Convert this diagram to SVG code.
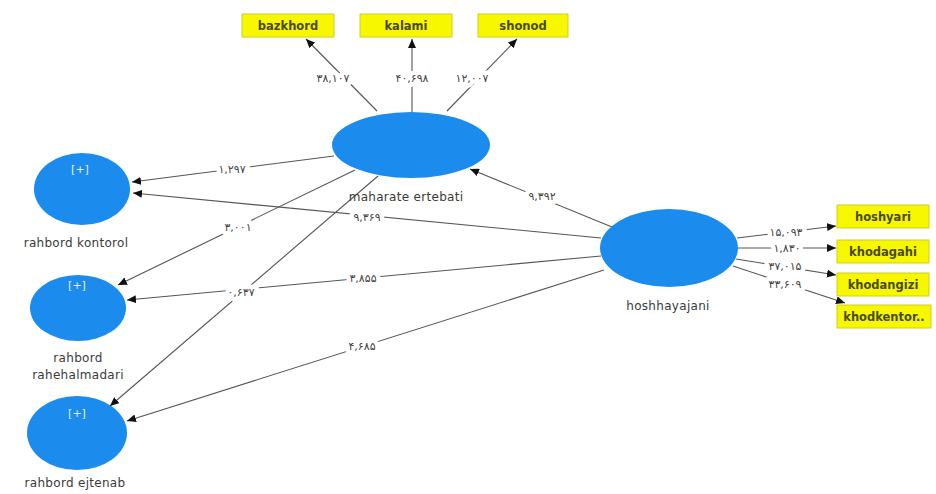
<svg xmlns="http://www.w3.org/2000/svg" width="936" height="494" viewBox="0 0 936 494">
<style>
.lv{fill:#1b8ced;}
.ind{fill:#f7f700;stroke:#cfcf20;stroke-width:1;}
.lbl{font-family:"DejaVu Sans","Liberation Sans",sans-serif;font-size:12px;fill:#3a3a3a;text-anchor:middle;letter-spacing:0.3px;}
.ilbl{font-family:"DejaVu Sans","Liberation Sans",sans-serif;font-size:11.5px;font-weight:bold;fill:#4a4a1a;text-anchor:middle;}
.plus{font-family:"DejaVu Sans","Liberation Sans",sans-serif;font-size:11px;fill:#e6f2ff;text-anchor:middle;}
.num{font-family:"DejaVu Sans",sans-serif;font-size:11px;fill:#444;text-anchor:middle;letter-spacing:1.3px;stroke:#fff;stroke-width:9px;paint-order:stroke;stroke-linejoin:round;direction:ltr;}
.ln{stroke:#555;stroke-width:1.1;fill:none;marker-end:url(#ah);}
</style>
<defs>
<marker id="ah" markerUnits="userSpaceOnUse" markerWidth="10" markerHeight="8" refX="9" refY="4" orient="auto">
<path d="M0,0 L9,4 L0,8 z" fill="#111"/>
</marker>
</defs>
<rect width="936" height="494" fill="#fff"/>
<g id="connectors">
<line class="ln" x1="377" y1="111" x2="306" y2="39"/>
<line class="ln" x1="412" y1="112" x2="412" y2="39"/>
<line class="ln" x1="447" y1="111" x2="517" y2="39"/>
<line class="ln" x1="334" y1="156" x2="132" y2="182"/>
<line class="ln" x1="601" y1="238" x2="133" y2="193"/>
<line class="ln" x1="355" y1="170" x2="118" y2="285"/>
<line class="ln" x1="601" y1="256" x2="127" y2="300"/>
<line class="ln" x1="378" y1="176" x2="110" y2="406"/>
<line class="ln" x1="604" y1="270" x2="127" y2="421"/>
<line class="ln" x1="612" y1="227" x2="470" y2="169"/>
<line class="ln" x1="737" y1="238" x2="836" y2="226"/>
<line class="ln" x1="738" y1="248" x2="836" y2="248"/>
<line class="ln" x1="736" y1="259" x2="836" y2="275"/>
<line class="ln" x1="733" y1="266" x2="845" y2="303"/>
<text class="num" x="333" y="82">۳۸,۱۰۷</text>
<text class="num" x="412" y="82">۴۰,۶۹۸</text>
<text class="num" x="472" y="82">۱۲,۰۰۷</text>
<text class="num" x="232" y="173">۱,۲۹۷</text>
<text class="num" x="367" y="221">۹,۳۶۹</text>
<text class="num" x="238" y="231">۳,۰۰۱</text>
<text class="num" x="241" y="296">۰,۶۳۷</text>
<text class="num" x="363" y="282">۳,۸۵۵</text>
<text class="num" x="362" y="350">۴,۶۸۵</text>
<text class="num" x="542" y="200">۹,۳۹۲</text>
<text class="num" x="786" y="236">۱۵,۰۹۳</text>
<text class="num" x="787" y="252">۱,۸۳۰</text>
<text class="num" x="785" y="270">۳۷,۰۱۵</text>
<text class="num" x="785" y="288">۳۳,۶۰۹</text>
</g>
<g id="maharate">
<ellipse class="lv" cx="411" cy="145" rx="79" ry="33"/>
<text class="lbl" x="406" y="201">maharate ertebati</text>
</g>
<g id="hoshhayajani">
<ellipse class="lv" cx="669" cy="248" rx="69" ry="39"/>
<text class="lbl" x="668" y="310">hoshhayajani</text>
</g>
<g id="rahbord-kontorol">
<ellipse class="lv" cx="82" cy="189" rx="48" ry="36"/>
<text class="plus" x="80" y="173">[+]</text>
<text class="lbl" x="76" y="247">rahbord kontorol</text>
</g>
<g id="rahbord-rahehalmadari">
<ellipse class="lv" cx="78" cy="308" rx="48" ry="33"/>
<text class="plus" x="77" y="289">[+]</text>
<text class="lbl" x="78" y="362">rahbord</text>
<text class="lbl" x="78" y="379">rahehalmadari</text>
</g>
<g id="rahbord-ejtenab">
<ellipse class="lv" cx="77" cy="433" rx="50" ry="37"/>
<text class="plus" x="77" y="417">[+]</text>
<text class="lbl" x="75" y="487">rahbord ejtenab</text>
</g>
<g id="bazkhord">
<rect class="ind" x="242" y="14" width="92" height="23"/>
<text class="ilbl" x="288" y="30">bazkhord</text>
</g>
<g id="kalami">
<rect class="ind" x="360" y="14" width="92" height="23"/>
<text class="ilbl" x="406" y="30">kalami</text>
</g>
<g id="shonod">
<rect class="ind" x="478" y="14" width="90" height="23"/>
<text class="ilbl" x="523" y="30">shonod</text>
</g>
<g id="hoshyari">
<rect class="ind" x="837" y="205" width="92" height="23"/>
<text class="ilbl" x="883" y="221">hoshyari</text>
</g>
<g id="khodagahi">
<rect class="ind" x="837" y="240" width="92" height="23"/>
<text class="ilbl" x="883" y="256">khodagahi</text>
</g>
<g id="khodangizi">
<rect class="ind" x="837" y="273" width="92" height="23"/>
<text class="ilbl" x="883" y="289">khodangizi</text>
</g>
<g id="khodkentor">
<rect class="ind" x="837" y="305" width="94" height="23"/>
<text class="ilbl" x="884" y="321">khodkentor..</text>
</g>
</svg>
